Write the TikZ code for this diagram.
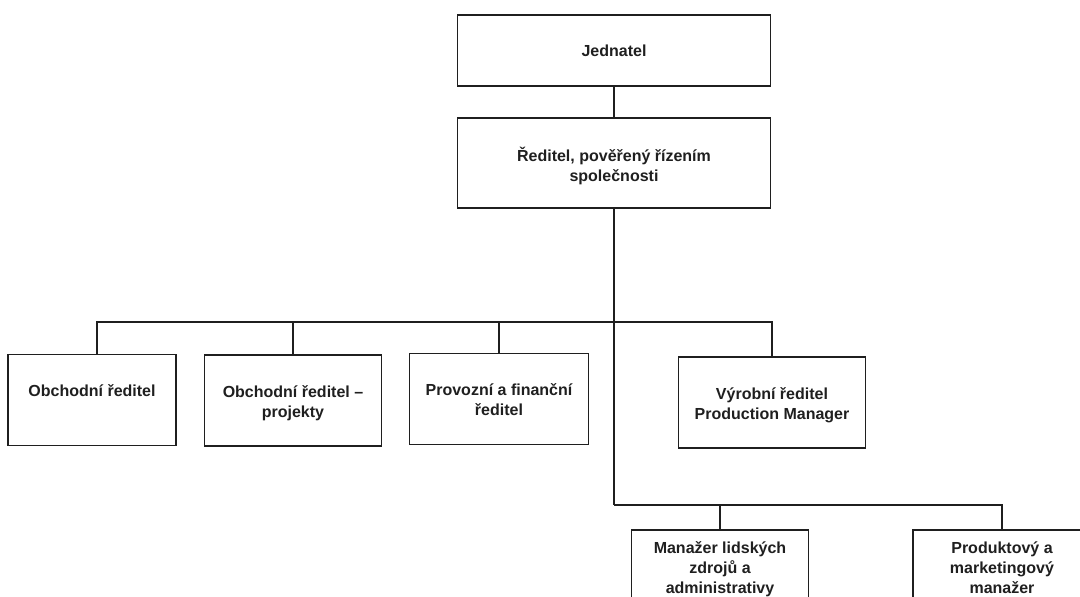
\documentclass[tikz,border=0pt]{standalone}
\usepackage{fontspec}
\setmainfont{Liberation Sans}
\usetikzlibrary{positioning}

\begin{document}
\begin{tikzpicture}[x=1pt,y=-1pt,
  every node/.style={font=\bfseries\fontsize{16}{20}\selectfont,text=black!88},
  box/.style={draw=black!88,line width=1.6pt,minimum width=177pt,minimum height=91pt,inner sep=0pt},
  lbl/.style={align=center,inner sep=0pt},
  conn/.style={draw=black!88,line width=1.6pt}]
\useasboundingbox (0,0) rectangle (1080,597);
\clip (0,0) rectangle (1080,597);
% top of the chart
\node[box,minimum width=313pt,minimum height=71pt] (jed) at (614,50.5) {Jednatel};
\node[box,minimum width=313pt,minimum height=90pt] (red) at (614,163) {};
\node[lbl,below=30pt of red.north] (redt) {Ředitel, pověřený řízením\\společnosti};
% second row
\node[box,minimum width=168pt] (obch1) at (92,400) {};
\node[box] (obch2) at (293,400.5) {};
\node[box,minimum width=179pt] (prov) at (499,399) {};
\node[box,minimum width=187pt] (vyr) at (772,402.5) {};
\node[lbl,below=31pt of obch1.north] (obch1t) {Obchodní ředitel};
\node[lbl,below=31pt of obch2.north] (obch2t) {Obchodní ředitel –\\projekty};
\node[lbl,below=31pt of prov.north] (provt) {Provozní a finanční\\ředitel};
\node[lbl,below=31pt of vyr.north] (vyrt) {Výrobní ředitel\\Production Manager};
% third row
\node[box] (lidske) at (720,575.5) {};
\node[box,minimum width=178pt] (produkt) at (1002,575.5) {};
\node[lbl,below=12pt of lidske.north] (lidsket) {Manažer lidských\\zdrojů a\\administrativy};
\node[lbl,below=12pt of produkt.north] (produktt) {Produktový a\\marketingový\\manažer};
% connectors
\coordinate (busA) at (614,322);
\coordinate (busB) at (614,505);
\draw[conn] (jed) -- (red);
\draw[conn] (red.south) -- (busB);
\draw[conn] (busA) -| ([xshift=5pt]obch1.north);
\foreach \n in {obch2,prov,vyr}
  \draw[conn] (busA) -| (\n.north);
\foreach \n in {lidske,produkt}
  \draw[conn] (busB) -| (\n.north);
\end{tikzpicture}
\end{document}
